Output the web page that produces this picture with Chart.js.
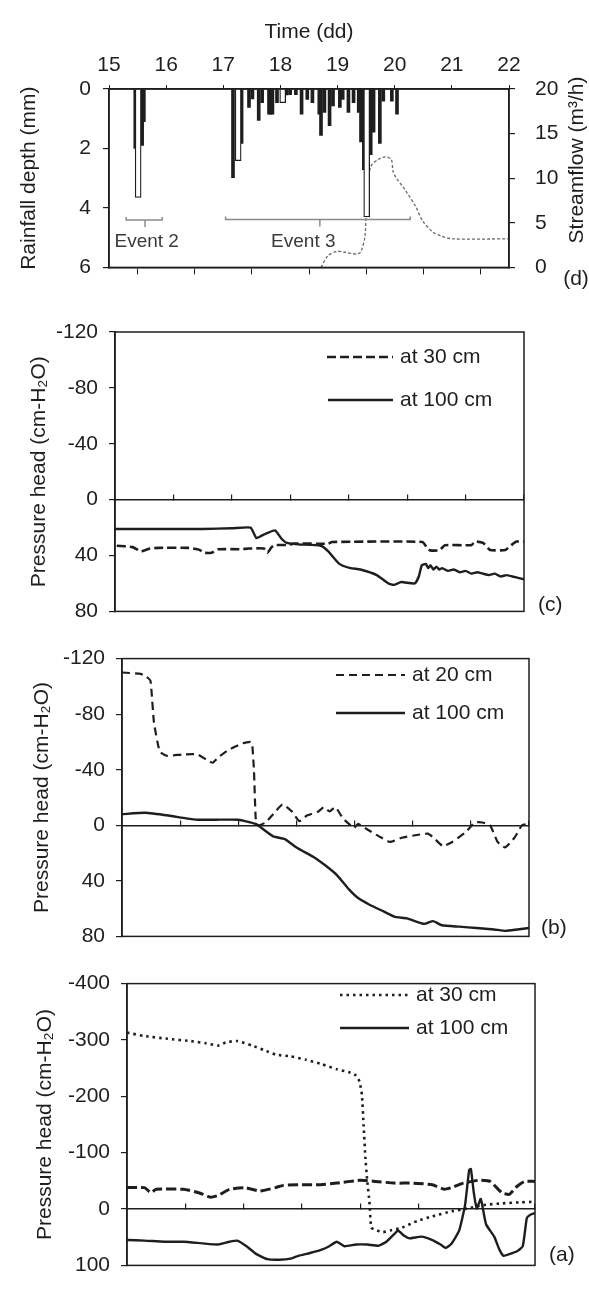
<!DOCTYPE html>
<html>
<head>
<meta charset="utf-8">
<script src="https://cdn.jsdelivr.net/npm/chart.js@4.4.1/dist/chart.umd.min.js"></script>
<style>
  html, body { margin: 0; padding: 0; background: #fff; }
  #wrap { position: relative; width: 589px; height: 1289px; overflow: hidden; }
  canvas { position: absolute; left: 0; }
</style>
</head>
<body>
<div id="wrap">
  <canvas id="chartD" width="589" height="300" style="top:0px"></canvas>
  <canvas id="chartC" width="589" height="335" style="top:300px"></canvas>
  <canvas id="chartB" width="589" height="325" style="top:635px"></canvas>
  <canvas id="chartA" width="589" height="329" style="top:960px"></canvas>
</div>
<script>
// ---- data (time in days) ----

// (d) rainfall, narrow dark bars
const rainDays  = [15.46, 15.58, 15.61,
  17.17, 17.32, 17.45, 17.51, 17.62, 17.68, 17.80, 17.83, 17.86, 17.94, 18.11, 18.17, 18.27,
  18.37, 18.47, 18.56, 18.68, 18.71, 18.77, 18.86, 18.92, 19.04, 19.09, 19.19, 19.28,
  19.37, 19.41, 19.46, 19.58, 19.63, 19.74, 19.80, 19.95, 20.04];
const rainDepth = [2.0, 1.9, 1.1,
  2.98, 1.83, 0.62, 0.33, 1.06, 0.46, 0.85, 0.85, 0.85, 0.46, 0.20, 0.19, 0.19,
  0.85, 0.35, 0.46, 0.85, 1.56, 0.79, 1.23, 0.57, 0.62, 0.35, 0.79, 0.46,
  0.79, 1.78, 2.71, 2.21, 1.45, 1.83, 0.41, 0.41, 0.85];
// (d) rainfall, wide open bars
const rainOpenDays  = [15.51, 17.26, 18.04, 19.51];
const rainOpenDepth = [3.65, 2.41, 0.46, 4.3];

// (d) streamflow (m3/h)
const flowDays   = [18.71, 18.83, 18.99, 19.12, 19.35, 19.41, 19.48, 19.51, 19.58, 19.71, 19.84,
  19.94, 19.97, 20.02, 20.17, 20.36, 20.49, 20.66, 20.82, 21.02, 22.0];
const flowValues = [0, 1.3, 1.8, 1.7, 1.5, 1.8, 3.5, 8.2, 11.3, 12.1, 12.4,
  12.1, 10.8, 10.1, 8.8, 6.9, 5.2, 4.0, 3.5, 3.2, 3.2];

// (d) rainfall events
const eventNames = ['Event 2', 'Event 3'];
const eventStart = [15.30, 17.04];
const eventEnd   = [15.93, 20.27];
const eventMid   = [15.63, 18.69];
const eventDepth = [4.41, 4.39];

// (c) pressure head
const c30Days = [15.03, 15.3, 15.45, 15.6, 15.74, 16.26, 16.45, 16.52, 16.65, 16.77, 17.16, 17.29,
  17.55, 17.61, 17.68, 17.74, 17.94, 18.06, 18.65, 18.71, 20.26, 20.35, 20.39, 20.55, 20.65,
  21.1, 21.16, 21.3, 21.42, 21.68, 21.8, 21.87, 22.0];
const c30Vals = [33, 34, 37, 35, 34.5, 34.5, 36, 38, 38, 35.5, 35.5, 35,
  35, 38, 34, 32.5, 32.5, 31.5, 31.5, 30.3, 30.3, 35, 36.3, 36.3, 32.6,
  32.6, 30, 31, 36, 36, 32, 30, 30];
const c100Days = [15.0, 16.0, 16.5, 17.0, 17.32, 17.42, 17.5, 17.6, 17.74, 17.85, 17.94, 18.13,
  18.52, 18.65, 18.84, 19.03, 19.2, 19.48, 19.68, 19.77, 19.9, 20.13, 20.2, 20.25, 20.32,
  20.36, 20.4, 20.45, 20.5, 20.55, 20.6, 20.7, 20.8, 20.9, 21.0, 21.1, 21.2, 21.3, 21.4,
  21.5, 21.6, 21.7, 21.8, 21.9, 22.0];
const c100Vals = [21, 21, 21, 20.5, 20, 27.5, 26, 24, 22, 28, 31, 32,
  33, 37, 46, 49, 50, 54, 60, 61, 59, 60, 55, 47, 46,
  49, 47, 50, 48, 50, 49, 51, 50, 52, 51, 53, 52, 53, 54,
  53, 55, 54, 55, 56, 57];

// (b) pressure head
const b20Days = [15.0, 15.32, 15.42, 15.49, 15.55, 15.65, 15.78, 16.04, 16.3, 16.46, 16.56, 16.66,
  16.82, 17.08, 17.21, 17.24, 17.27, 17.3, 17.34, 17.47, 17.6, 17.76, 17.92, 18.05, 18.18,
  18.38, 18.47, 18.57, 18.67, 18.8, 18.93, 18.99, 19.06, 19.22, 19.42, 19.61, 19.81, 20.07,
  20.26, 20.36, 20.52, 20.68, 20.91, 21.07, 21.2, 21.33, 21.46, 21.59, 21.75, 21.88, 22.0];
const b20Vals = [-110, -109, -107, -104, -74, -53, -50, -51, -51, -47, -45, -49,
  -54, -59, -60, -58, -39, -5, 0, -2, -8, -15, -10, -3, -7,
  -10, -13, -10, -13, -5, 0, 2, -1, 3, 8, 12, 9, 7,
  6, 9, 15, 12, 5, -2, -2, 0, 12, 16, 9, 0, -1];
const b100Days = [15.0, 15.4, 15.8, 16.1, 16.3, 16.6, 17.0, 17.3, 17.4, 17.6, 17.8, 18.0, 18.3,
  18.5, 18.7, 18.9, 19.05, 19.25, 19.5, 19.7, 19.9, 20.2, 20.35, 20.5, 20.8, 21.1, 21.4,
  21.6, 21.8, 22.0];
const b100Vals = [-8, -9, -7, -5, -4, -4, -4, -1, 2, 8, 10, 16, 23,
  29, 36, 46, 52, 57, 62, 66, 67, 71, 69, 72, 73, 74, 75,
  76, 75, 74];

// (a) pressure head
const a30Days = [15.0, 15.3, 15.7, 16.1, 16.36, 16.56, 16.7, 16.89, 17.15, 17.35, 17.55, 17.8,
  18.07, 18.34, 18.6, 18.8, 18.93, 18.99, 19.03, 19.06, 19.09, 19.12, 19.16, 19.19, 19.26,
  19.39, 19.52, 19.72, 19.98, 20.24, 20.57, 20.84, 21.1, 21.43, 21.76, 22.0];
const a30Vals = [-313, -307, -302, -298, -294, -290, -296, -298, -290, -282, -274, -271,
  -265, -257, -248, -243, -237, -226, -203, -147, -91, -52, -12, 33, 37,
  41, 38, 33, 21, 13, 4, -1, -7, -10, -12, -13];
const aDashDays = [15.0, 15.3, 15.41, 15.5, 15.97, 16.23, 16.43, 16.56, 16.76, 17.02, 17.28, 17.55,
  17.68, 17.94, 18.27, 18.6, 18.99, 19.26, 19.59, 19.91, 20.24, 20.44, 20.57, 20.77, 21.03,
  21.23, 21.43, 21.56, 21.69, 21.82, 22.0];
const aDashVals = [-38, -38, -29, -35, -35, -29, -21, -24, -35, -38, -32, -38,
  -42, -43, -43, -46, -51, -49, -46, -46, -43, -35, -38, -46, -51,
  -49, -29, -26, -40, -49, -49];
const a100Days = [15.0, 15.3, 15.64, 15.97, 16.3, 16.56, 16.76, 16.89, 17.05, 17.22, 17.41, 17.61,
  17.81, 17.94, 18.14, 18.34, 18.47, 18.6, 18.73, 18.93, 19.12, 19.32, 19.45, 19.59, 19.65,
  19.75, 19.85, 20.05, 20.24, 20.38, 20.47, 20.57, 20.7, 20.8, 20.87, 20.9, 20.95, 21.0,
  21.07, 21.16, 21.3, 21.39, 21.46, 21.56, 21.69, 21.79, 21.86, 21.92, 22.0];
const a100Vals = [55, 56, 58, 58, 61, 63, 58, 56, 66, 80, 89, 90,
  88, 83, 78, 72, 66, 58, 66, 63, 63, 65, 58, 44, 38,
  47, 52, 49, 55, 63, 69, 61, 38, -7, -69, -71, -29, -1,
  -18, 27, 49, 72, 83, 80, 75, 66, 16, 10, 7];

// ---- drawing ----
const FONT = '"Liberation Sans", Arial, sans-serif';
const INK = '#1e1e1e';
Chart.defaults.font.family = FONT;
Chart.defaults.font.size = 21;
Chart.defaults.color = INK;

function pts(xs, ys) {
  return xs.map((x, i) => ({ x: x, y: ys[i] }));
}

const framePlugin = {
  id: 'frame',
  afterDraw(chart) {
    const a = chart.chartArea, c = chart.ctx;
    c.save();
    c.strokeStyle = INK;
    c.lineWidth = 1.5;
    c.strokeRect(a.left, a.top, a.right - a.left, a.bottom - a.top);
    c.restore();
  }
};

// legend samples and loose labels
const notesPlugin = {
  id: 'notes',
  afterDraw(chart, args, opts) {
    const c = chart.ctx;
    c.save();
    c.font = '21px ' + FONT;
    c.fillStyle = INK;
    c.textBaseline = 'middle';
    (opts.legend || []).forEach(item => {
      const ds = chart.data.datasets[item.ds];
      c.strokeStyle = ds.borderColor;
      c.lineWidth = ds.borderWidth;
      c.setLineDash(ds.borderDash || []);
      c.beginPath();
      c.moveTo(item.x0, item.y);
      c.lineTo(item.x1, item.y);
      c.stroke();
      c.setLineDash([]);
      c.textAlign = 'left';
      c.fillText(ds.label, item.x1 + 7, item.y);
    });
    (opts.texts || []).forEach(t => {
      c.save();
      c.translate(t.x, t.y);
      if (t.rot) c.rotate(t.rot);
      c.textAlign = t.align || 'left';
      c.fillText(t.text, 0, 0);
      c.restore();
    });
    c.restore();
  }
};

// event brackets in panel (d)
const eventPlugin = {
  id: 'events',
  afterDatasetsDraw(chart) {
    const xs = chart.scales.x, ys = chart.scales.y, c = chart.ctx;
    const labelAt = [[15.66, 5.15], [18.40, 5.15]];
    c.save();
    c.strokeStyle = '#8a8a8a';
    c.lineWidth = 1.5;
    c.fillStyle = '#3a3a3a';
    c.font = '19px ' + FONT;
    c.textAlign = 'center';
    c.textBaseline = 'middle';
    eventNames.forEach((name, i) => {
      const x0 = xs.getPixelForValue(eventStart[i]);
      const x1 = xs.getPixelForValue(eventEnd[i]);
      const xm = xs.getPixelForValue(eventMid[i]);
      const y = ys.getPixelForValue(eventDepth[i]);
      c.beginPath();
      c.moveTo(x0, y - 3); c.lineTo(x0, y); c.lineTo(x1, y); c.lineTo(x1, y - 3);
      c.moveTo(xm, y); c.lineTo(xm, y + 7);
      c.stroke();
      c.fillText(name, xs.getPixelForValue(labelAt[i][0]), ys.getPixelForValue(labelAt[i][1]));
    });
    c.restore();
  }
};

const axisGrid = { drawOnChartArea: false, tickLength: 6, color: INK, lineWidth: 1.2 };
const axisBorder = { color: INK, width: 1.5 };

// ---- panel (d) ----
new Chart(document.getElementById('chartD'), {
  type: 'bar',
  data: {
    datasets: [
      { type: 'bar', label: 'open', data: pts(rainOpenDays, rainOpenDepth), xAxisID: 'x', yAxisID: 'y',
        backgroundColor: '#fff', borderColor: INK, borderWidth: 1.3, barThickness: 6, grouped: false },
      { type: 'bar', label: 'rain', data: pts(rainDays, rainDepth), xAxisID: 'x', yAxisID: 'y',
        backgroundColor: INK, borderWidth: 0, barThickness: 3, grouped: false },
      { type: 'line', label: 'flow', data: pts(flowDays, flowValues), xAxisID: 'x', yAxisID: 'y2',
        borderColor: '#6a6a6a', borderWidth: 1.3, borderDash: [3, 2], pointRadius: 0, tension: 0.3 }
    ]
  },
  options: {
    responsive: false, animation: false, devicePixelRatio: 1,
    layout: { padding: 0 },
    plugins: {
      legend: { display: false }, tooltip: { enabled: false },
      notes: { texts: [
        { text: 'Streamflow (m³/h)', x: 577, y: 160, rot: -Math.PI / 2, align: 'center' },
        { text: '(d)', x: 576, y: 279, align: 'center' }
      ] }
    },
    scales: {
      x: { type: 'linear', position: 'top', min: 15, max: 22, offset: false,
        ticks: { stepSize: 1, autoSkip: false, padding: 7, maxRotation: 0 },
        grid: { drawOnChartArea: false, tickLength: 4, color: INK, offset: false },
        border: axisBorder,
        title: { display: true, text: 'Time (dd)', padding: { top: 20, bottom: 0 } },
        afterFit: s => { s.height = 89; } },
      xb: { type: 'linear', position: 'bottom', min: 15, max: 22, offset: false,
        ticks: { display: false, stepSize: 1 },
        grid: { drawOnChartArea: false, tickLength: 7, color: INK },
        border: axisBorder,
        afterFit: s => { s.height = 19; } },
      y: { type: 'linear', position: 'left', reverse: true, min: 0, max: 6,
        ticks: { stepSize: 2, padding: 12 },
        grid: axisGrid, border: axisBorder,
        title: { display: true, text: 'Rainfall depth (mm)', padding: { top: 17, bottom: 0 } },
        afterFit: s => { s.width = 109; } },
      y2: { type: 'linear', position: 'right', min: 0, max: 20,
        ticks: { stepSize: 5, padding: 20 },
        grid: axisGrid, border: axisBorder,
        afterFit: s => { s.width = 80; } }
    }
  },
  plugins: [framePlugin, eventPlugin, notesPlugin]
});

// ---- pressure head panels ----
function pressurePanel(id, yMin, yMax, yStep, leftW, titlePad, pad, datasets, notes) {
  return new Chart(document.getElementById(id), {
    type: 'line',
    data: { datasets: datasets },
    options: {
      responsive: false, animation: false, devicePixelRatio: 1,
      layout: { padding: pad },
      elements: { point: { radius: 0 }, line: { tension: 0.15 } },
      plugins: { legend: { display: false }, tooltip: { enabled: false }, notes: notes },
      scales: {
        x: { type: 'linear', min: 15, max: 22, position: { y: 0 }, offset: false,
          ticks: { display: false, stepSize: 1 },
          grid: { drawOnChartArea: false, tickLength: -6, color: INK, lineWidth: 1.2 },
          border: axisBorder,
          afterFit: s => { s.height = 0; } },
        y: { type: 'linear', position: 'left', reverse: true, min: yMin, max: yMax,
          ticks: { stepSize: yStep, padding: 11 },
          grid: axisGrid, border: axisBorder,
          title: { display: true, text: 'Pressure head (cm-H₂O)', padding: { top: titlePad, bottom: 0 } },
          afterFit: s => { s.width = leftW; } }
      }
    },
    plugins: [framePlugin, notesPlugin]
  });
}

pressurePanel('chartC', -120, 80, 40, 115, 27, { top: 32, right: 65, bottom: 15, left: 0 }, [
  { label: 'at 30 cm', data: pts(c30Days, c30Vals), borderColor: INK, borderWidth: 2.6, borderDash: [9, 4] },
  { label: 'at 100 cm', data: pts(c100Days, c100Vals), borderColor: INK, borderWidth: 2.4 }
], {
  legend: [{ ds: 0, x0: 327, x1: 393, y: 57 }, { ds: 1, x0: 328, x1: 393, y: 100 }],
  texts: [{ text: '(c)', x: 538, y: 305 }]
});

pressurePanel('chartB', -120, 80, 40, 122, 30, { top: 20, right: 60, bottom: 14, left: 0 }, [
  { label: 'at 20 cm', data: pts(b20Days, b20Vals), borderColor: INK, borderWidth: 2.2, borderDash: [8, 5] },
  { label: 'at 100 cm', data: pts(b100Days, b100Vals), borderColor: INK, borderWidth: 2.4 }
], {
  legend: [{ ds: 0, x0: 336, x1: 405, y: 40 }, { ds: 1, x0: 336, x1: 405, y: 78 }],
  texts: [{ text: '(b)', x: 541, y: 293 }]
});

pressurePanel('chartA', -400, 100, 100, 127, 33, { top: 13, right: 54, bottom: 23, left: 0 }, [
  { label: 'at 30 cm', data: pts(a30Days, a30Vals), borderColor: INK, borderWidth: 2.6, borderDash: [2.5, 4] },
  { label: 'at 100 cm', data: pts(a100Days, a100Vals), borderColor: INK, borderWidth: 2.4 },
  { label: '', data: pts(aDashDays, aDashVals), borderColor: INK, borderWidth: 3, borderDash: [10, 4] }
], {
  legend: [{ ds: 0, x0: 340, x1: 409, y: 35 }, { ds: 1, x0: 340, x1: 409, y: 68 }],
  texts: [{ text: '(a)', x: 549, y: 295 }]
});
</script>
</body>
</html>
